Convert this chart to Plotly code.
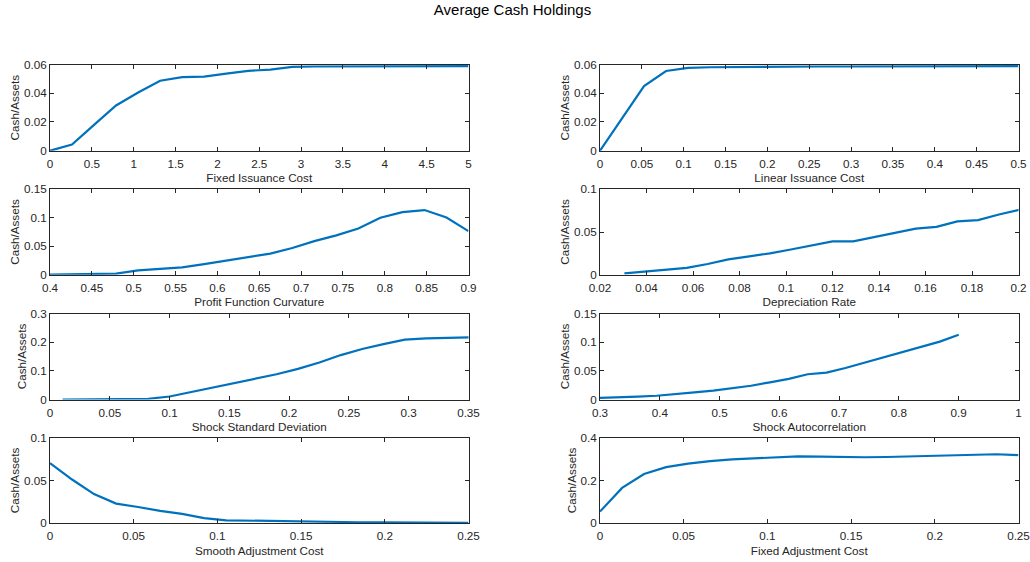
import plotly.graph_objects as go

# ---------------- data ----------------
fixed_iss_x = [0, 0.263, 0.526, 0.789, 1.053, 1.316, 1.579, 1.842, 2.105, 2.368, 2.632, 2.895,
               3.158, 3.421, 3.684, 3.947, 4.211, 4.474, 4.737, 5.0]
fixed_iss_y = [0.0, 0.0043, 0.0180, 0.0315, 0.0405, 0.0487, 0.0512, 0.0515, 0.0537, 0.0556, 0.0565, 0.0584,
               0.0586, 0.0587, 0.0587, 0.0588, 0.0588, 0.0588, 0.0589, 0.0589]

lin_iss_x = [0, 0.0263, 0.0526, 0.0789, 0.1053, 0.1316, 0.1579, 0.1842, 0.2105, 0.2368, 0.2632, 0.2895,
             0.3158, 0.3421, 0.3684, 0.3947, 0.4211, 0.4474, 0.4737, 0.5]
lin_iss_y = [0.0, 0.0225, 0.0450, 0.0555, 0.0576, 0.0581, 0.0583, 0.0584, 0.0585, 0.0585, 0.0586, 0.0586,
             0.0586, 0.0587, 0.0587, 0.0587, 0.0587, 0.0588, 0.0588, 0.0588]

curv_x = [0.4, 0.4263, 0.4526, 0.4789, 0.5053, 0.5316, 0.5579, 0.5842, 0.6105, 0.6368, 0.6632, 0.6895,
          0.7158, 0.7421, 0.7684, 0.7947, 0.8211, 0.8474, 0.8737, 0.9]
curv_y = [0.0, 0.0003, 0.0018, 0.0020, 0.0075, 0.0105, 0.0130, 0.0185, 0.0250, 0.0305, 0.0370, 0.0470,
          0.0590, 0.0690, 0.0810, 0.1000, 0.1100, 0.1135, 0.1005, 0.0765]

dep_x = [0.0305, 0.0394, 0.0484, 0.0573, 0.0663, 0.0752, 0.0842, 0.0931, 0.1021, 0.1110, 0.1200, 0.1289,
         0.1379, 0.1468, 0.1558, 0.1647, 0.1737, 0.1826, 0.1916, 0.2005]
dep_y = [0.0015, 0.0035, 0.0060, 0.0080, 0.0125, 0.0180, 0.0215, 0.0250, 0.0295, 0.0345, 0.0390, 0.0390,
         0.0440, 0.0490, 0.0540, 0.0560, 0.0625, 0.0640, 0.0705, 0.0760]

sd_x = [0.0105, 0.0284, 0.0463, 0.0642, 0.0821, 0.1000, 0.1179, 0.1358, 0.1537, 0.1716, 0.1895, 0.2074,
        0.2253, 0.2432, 0.2611, 0.2789, 0.2968, 0.3147, 0.3326, 0.3505]
sd_y = [0.0, 0.0, 0.0, 0.0005, 0.0025, 0.0105, 0.0260, 0.0390, 0.0550, 0.0720, 0.0880, 0.1070,
        0.1290, 0.1550, 0.1760, 0.1930, 0.2090, 0.2130, 0.2160, 0.2170]

ac_x = [0.3, 0.3316, 0.3632, 0.3947, 0.4263, 0.4579, 0.4895, 0.5211, 0.5526, 0.5842, 0.6158, 0.6474,
        0.6789, 0.7105, 0.7421, 0.7737, 0.8053, 0.8368, 0.8684, 0.9]
ac_y = [0.0030, 0.0035, 0.0050, 0.0065, 0.0090, 0.0125, 0.0155, 0.0200, 0.0240, 0.0300, 0.0360, 0.0440,
        0.0470, 0.0550, 0.0640, 0.0730, 0.0830, 0.0920, 0.1010, 0.1130]

smooth_x = [0, 0.0132, 0.0263, 0.0395, 0.0526, 0.0658, 0.0789, 0.0921, 0.1053, 0.1184, 0.1316, 0.1447,
            0.1579, 0.1711, 0.1842, 0.1974, 0.2105, 0.2237, 0.2368, 0.25]
smooth_y = [0.0700, 0.0510, 0.0340, 0.0230, 0.0190, 0.0145, 0.0110, 0.0060, 0.0035, 0.0030, 0.0025, 0.0020,
            0.0017, 0.0015, 0.0012, 0.0010, 0.0008, 0.0006, 0.0005, 0.0004]

fixadj_x = [0, 0.0132, 0.0263, 0.0395, 0.0526, 0.0658, 0.0789, 0.0921, 0.1053, 0.1184, 0.1316, 0.1447,
            0.1579, 0.1711, 0.1842, 0.1974, 0.2105, 0.2237, 0.2368, 0.25]
fixadj_y = [0.055, 0.165, 0.230, 0.262, 0.278, 0.290, 0.298, 0.303, 0.307, 0.312, 0.311, 0.308,
            0.308, 0.309, 0.311, 0.314, 0.317, 0.318, 0.322, 0.318]

panels = [
    ("Fixed Issuance Cost", fixed_iss_x, fixed_iss_y, [0, 5], 0.5, [0, 0.06], 0.02),
    ("Linear Issuance Cost", lin_iss_x, lin_iss_y, [0, 0.5], 0.05, [0, 0.06], 0.02),
    ("Profit Function Curvature", curv_x, curv_y, [0.4, 0.9], 0.05, [0, 0.15], 0.05),
    ("Depreciation Rate", dep_x, dep_y, [0.02, 0.2], 0.02, [0, 0.1], 0.05),
    ("Shock Standard Deviation", sd_x, sd_y, [0, 0.35], 0.05, [0, 0.3], 0.1),
    ("Shock Autocorrelation", ac_x, ac_y, [0.3, 1], 0.1, [0, 0.15], 0.05),
    ("Smooth Adjustment Cost", smooth_x, smooth_y, [0, 0.25], 0.05, [0, 0.1], 0.05),
    ("Fixed Adjustment Cost", fixadj_x, fixadj_y, [0, 0.25], 0.05, [0, 0.4], 0.2),
]

# ---------------- layout ----------------
W, H = 1030, 562
col_px = [(50, 468.5), (600, 1018.5)]
row_px = [(64.5, 150.7), (189.3, 274.7), (313.5, 399.5), (437.5, 523.3)]

FONT = "Liberation Sans, Arial, Helvetica, sans-serif"
FS = 11.7
AX_COLOR = "#262626"
LINE_COLOR = "#0072BD"

fig = go.Figure()
layout = dict(
    width=W, height=H,
    margin=dict(l=0, r=0, t=0, b=0, autoexpand=False),
    paper_bgcolor="white", plot_bgcolor="white",
    showlegend=False,
    font=dict(family=FONT, size=FS, color=AX_COLOR),
    title=dict(text="Average Cash Holdings", x=512.5 / W, xanchor="center",
               y=1 - 10 / H, yanchor="middle",
               font=dict(family=FONT, size=15, color="#000000")),
)

for i, (xlabel, xs, ys, xr, xd, yr, yd) in enumerate(panels):
    r, c = divmod(i, 2)
    n = i + 1
    xa = "x" if n == 1 else f"x{n}"
    ya = "y" if n == 1 else f"y{n}"
    fig.add_trace(go.Scatter(x=xs, y=ys, mode="lines", xaxis=xa, yaxis=ya,
                             line=dict(color=LINE_COLOR, width=2.2)))
    x0, x1 = col_px[c]
    t, b = row_px[r]
    common = dict(showline=True, linecolor=AX_COLOR, linewidth=1, mirror="allticks",
                  ticks="inside", ticklen=4, tickwidth=1, tickcolor=AX_COLOR,
                  showgrid=False, zeroline=False, fixedrange=True, automargin=False,
                  tickfont=dict(family=FONT, size=FS, color=AX_COLOR))
    layout["xaxis" if n == 1 else f"xaxis{n}"] = dict(
        domain=[x0 / W, x1 / W], range=xr, dtick=xd, tick0=xr[0],
        anchor=ya, ticklabelstandoff=2, ticklabeloverflow="allow",
        title=dict(text=xlabel, standoff=5,
                   font=dict(family=FONT, size=FS, color=AX_COLOR)),
        **common)
    layout["yaxis" if n == 1 else f"yaxis{n}"] = dict(
        domain=[1 - b / H, 1 - t / H], range=yr, dtick=yd, tick0=0,
        anchor=xa, title=dict(text="Cash/Assets", standoff=1,
                              font=dict(family=FONT, size=FS, color=AX_COLOR)),
        **common)

fig.update_layout(**layout)
# remove the default 8px page margin so the figure fills the window exactly
fig.write_html("out.html", config={"displayModeBar": False},
               post_script="document.body.style.margin='0';")
